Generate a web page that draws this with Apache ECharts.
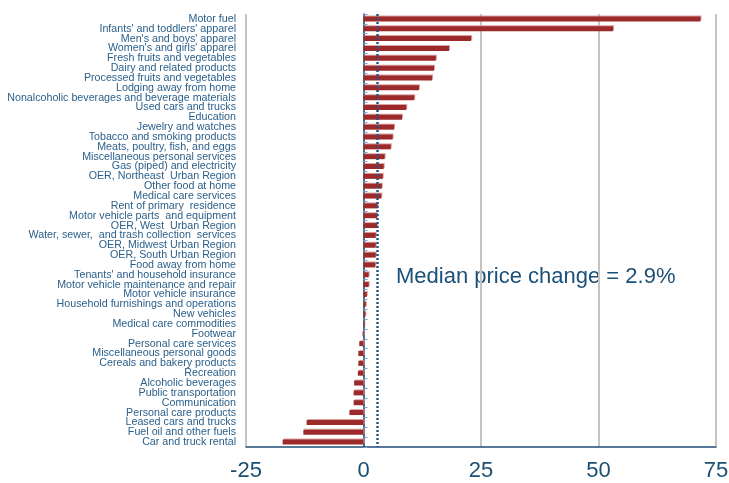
<!DOCTYPE html>
<html>
<head>
  <meta charset="utf-8" />
  <title>CPI components, price change</title>
  <script src="https://cdn.jsdelivr.net/npm/echarts@6/dist/echarts.min.js"></script>
</head>
<body style="margin:0;background:#fff;">
  <div id="main" style="width:729px;height:483px;"></div>
  <script type="text/javascript">

    // Inline data (top to bottom)
    let categories = ['Motor fuel', "Infants' and toddlers' apparel", "Men's and boys' apparel",
      "Women's and girls' apparel", 'Fresh fruits and vegetables', 'Dairy and related products',
      'Processed fruits and vegetables', 'Lodging away from home',
      'Nonalcoholic beverages and beverage materials', 'Used cars and trucks', 'Education',
      'Jewelry and watches', 'Tobacco and smoking products', 'Meats, poultry, fish, and eggs',
      'Miscellaneous personal services', 'Gas (piped) and electricity', 'OER, Northeast  Urban Region',
      'Other food at home', 'Medical care services', 'Rent of primary  residence',
      'Motor vehicle parts  and equipment', 'OER, West  Urban Region',
      'Water, sewer,  and trash collection  services', 'OER, Midwest Urban Region',
      'OER, South Urban Region', 'Food away from home', "Tenants' and household insurance",
      'Motor vehicle maintenance and repair', 'Motor vehicle insurance',
      'Household furnishings and operations', 'New vehicles', 'Medical care commodities',
      'Footwear', 'Personal care services', 'Miscellaneous personal goods',
      'Cereals and bakery products', 'Recreation', 'Alcoholic beverages',
      'Public transportation', 'Communication', 'Personal care products',
      'Leased cars and trucks', 'Fuel oil and other fuels', 'Car and truck rental'];
    let priceChange = [71.7, 53.1, 22.9, 18.2, 15.4, 15.0, 14.6, 11.8, 10.8, 9.1, 8.2,
      6.5, 6.2, 5.8, 4.5, 4.3, 4.1, 3.9, 3.8, 3.0, 2.9, 2.9, 2.6, 2.6, 2.6, 2.5,
      1.1, 1.1, 0.7, 0.5, 0.4, 0.2, -0.2, -0.9, -1.1, -1.1, -1.2, -2.0, -2.1, -2.1,
      -3.0, -12.1, -12.8, -17.2];
    let medianChange = 2.9;
    let xTicks = [-25, 0, 25, 50, 75];

    var chart = echarts.init(document.getElementById('main'));

    var option = {
      animation: false,
      grid: { left: 246, right: 13, top: 14, bottom: 36, containLabel: false, outerBoundsMode: 'none' },
      graphic: [{
        type: 'text',
        left: 396,
        top: 266,
        style: {
          text: 'Median price change = ' + medianChange + '%',
          font: '22px "Liberation Sans", Arial, sans-serif',
          fill: '#1b5079'
        }
      }],
      xAxis: {
        type: 'value',
        min: xTicks[0],
        max: xTicks[xTicks.length - 1],
        interval: 25,
        axisLine: { show: true, onZero: false, lineStyle: { color: '#1f4e79', width: 1.5 } },
        axisTick: { show: false },
        axisLabel: {
          color: '#1b4f72',
          fontSize: 22,
          margin: 13,
          fontFamily: '"Liberation Sans", Arial, sans-serif'
        },
        splitLine: { show: true, lineStyle: { color: '#c4c4c4', width: 2 } }
      },
      yAxis: {
        type: 'category',
        inverse: true,
        data: categories,
        axisLine: { show: true, onZero: true, lineStyle: { color: '#1f4e79', width: 1.5 } },
        axisTick: { show: true, inside: true, length: 4, lineStyle: { color: '#7f9fbf' } },
        axisLabel: {
          color: '#2b5f8a',
          fontSize: 10.7,
          margin: 10,
          interval: 0,
          fontFamily: '"Liberation Sans", Arial, sans-serif'
        },
        splitLine: { show: false }
      },
      series: [{
        name: 'Price change',
        type: 'bar',
        data: priceChange,
        barWidth: 5,
        itemStyle: {
          color: '#9c2a2a',
          shadowColor: 'rgba(215,150,150,0.9)',
          shadowOffsetX: 1,
          shadowOffsetY: -1
        },
        markLine: {
          silent: true,
          symbol: 'none',
          label: { show: false },
          lineStyle: { color: '#1f5a86', type: [2, 2], width: 2.5 },
          data: [{ xAxis: medianChange }]
        }
      }]
    };

    chart.setOption(option);
  </script>
</body>
</html>
